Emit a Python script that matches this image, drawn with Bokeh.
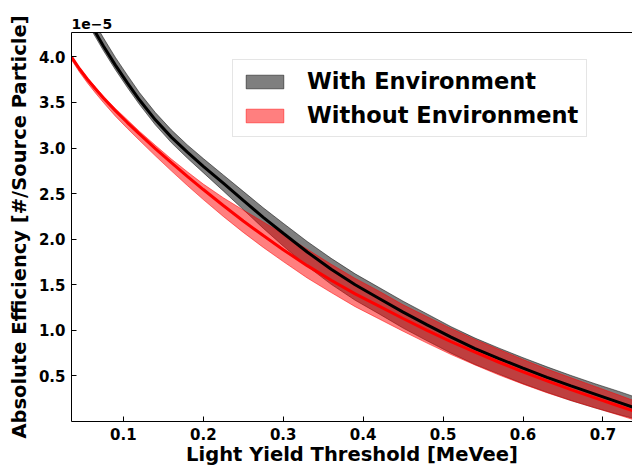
from bokeh.plotting import figure
from bokeh.models import Range1d, FixedTicker, NumeralTickFormatter, Legend, LegendItem, LinearAxis
from bokeh.embed import file_html
from bokeh.resources import INLINE

# Light yield threshold [MeVee]
x_thr = [0.035, 0.045, 0.055, 0.065, 0.075, 0.09, 0.105, 0.12, 0.14, 0.16, 0.18, 0.2, 0.225, 0.25, 0.275,
         0.3, 0.33, 0.36, 0.39, 0.42, 0.45, 0.48, 0.51, 0.54, 0.57, 0.6, 0.63, 0.66, 0.69, 0.72, 0.74]

# With environment (units of 1e-5): central value, upper and lower band edges
with_env = [4.74, 4.58, 4.42, 4.27, 4.12, 3.91, 3.715, 3.53, 3.31, 3.12, 2.955, 2.80, 2.615, 2.425, 2.24,
            2.065, 1.86, 1.67, 1.50, 1.35, 1.20, 1.06, 0.925, 0.80, 0.69, 0.585, 0.485, 0.39, 0.30, 0.21, 0.15]
with_env_hi = [4.83, 4.67, 4.51, 4.36, 4.21, 3.995, 3.80, 3.61, 3.39, 3.20, 3.035, 2.885, 2.705, 2.525, 2.345,
               2.175, 1.975, 1.79, 1.62, 1.47, 1.32, 1.18, 1.04, 0.915, 0.805, 0.70, 0.60, 0.505, 0.415, 0.33, 0.27]
with_env_lo = [4.69, 4.53, 4.37, 4.22, 4.07, 3.86, 3.665, 3.48, 3.255, 3.06, 2.89, 2.73, 2.53, 2.325, 2.12,
               1.925, 1.705, 1.505, 1.33, 1.18, 1.025, 0.885, 0.75, 0.625, 0.52, 0.415, 0.32, 0.23, 0.15, 0.075, 0.03]

# Without environment (units of 1e-5)
without_env = [4.00, 3.87, 3.755, 3.65, 3.55, 3.41, 3.28, 3.155, 2.995, 2.84, 2.69, 2.545, 2.37, 2.20, 2.04,
               1.885, 1.71, 1.55, 1.40, 1.265, 1.13, 1.00, 0.875, 0.76, 0.65, 0.545, 0.445, 0.35, 0.26, 0.17, 0.11]
without_env_hi = [4.01, 3.885, 3.77, 3.67, 3.57, 3.435, 3.31, 3.185, 3.03, 2.88, 2.74, 2.605, 2.455, 2.32, 2.19,
                  2.055, 1.89, 1.725, 1.57, 1.43, 1.28, 1.15, 1.02, 0.90, 0.79, 0.68, 0.575, 0.48, 0.385, 0.29, 0.225]
without_env_lo = [3.97, 3.835, 3.715, 3.605, 3.50, 3.35, 3.215, 3.085, 2.915, 2.75, 2.59, 2.435, 2.25, 2.075, 1.91,
                  1.755, 1.575, 1.415, 1.26, 1.125, 0.99, 0.86, 0.735, 0.62, 0.51, 0.41, 0.315, 0.23, 0.15, 0.07, 0.015]

x_ticks = [0.1, 0.2, 0.3, 0.4, 0.5, 0.6, 0.7]
y_ticks = [0.5, 1.0, 1.5, 2.0, 2.5, 3.0, 3.5, 4.0]
offset_text = "1e\u22125"

FONT = "DejaVu Sans"

p = figure(width=632, height=468, output_backend="svg", toolbar_location=None,
           x_range=Range1d(0.0351, 0.737), y_range=Range1d(0, 4.268),
           min_border_left=71, min_border_right=0, min_border_top=32, min_border_bottom=47)
p.outline_line_color = None
p.xgrid.visible = False
p.ygrid.visible = False
p.background_fill_color = "white"
p.border_fill_color = "white"

p.title.text = offset_text
p.title.align = "left"
p.title.text_font = FONT
p.title.text_font_style = "bold"
p.title.text_font_size = "14px"
p.title.text_color = "black"
p.title.standoff = 7
p.title.offset = 0

# bands
band_x = x_thr + x_thr[::-1]
g = p.patch(band_x, with_env_hi + with_env_lo[::-1], fill_color="black", fill_alpha=0.5,
            line_color="black", line_alpha=0.5, line_width=1)
r = p.patch(band_x, without_env_hi + without_env_lo[::-1], fill_color="red", fill_alpha=0.5,
            line_color="red", line_alpha=0.5, line_width=1)
p.line(x_thr, with_env, line_color="black", line_width=3)
p.line(x_thr, without_env, line_color="red", line_width=3)

# axes
for ax in (p.xaxis[0], p.yaxis[0]):
    ax.axis_line_color = "black"
    ax.axis_line_width = 1
    ax.major_tick_line_color = "black"
    ax.major_tick_in = 5
    ax.major_tick_out = 0
    ax.minor_tick_line_color = None
    ax.major_label_text_font = FONT
    ax.major_label_text_font_style = "bold"
    ax.major_label_text_font_size = "15px"
    ax.major_label_text_color = "black"
    ax.axis_label_text_font = FONT
    ax.axis_label_text_font_style = "bold"
    ax.axis_label_text_font_size = "19.5px"
    ax.axis_label_text_color = "black"
    ax.major_label_standoff = 6

p.xaxis.ticker = FixedTicker(ticks=x_ticks)
p.yaxis.ticker = FixedTicker(ticks=y_ticks)
p.xaxis.formatter = NumeralTickFormatter(format="0.0")
p.yaxis.formatter = NumeralTickFormatter(format="0.0")
p.xaxis.axis_label = "Light Yield Threshold [MeVee]"
p.yaxis.axis_label = "Absolute Efficiency [#/Source Particle]"
p.xaxis.axis_label_standoff = 0
p.yaxis.axis_label_standoff = 5

top = LinearAxis(ticker=FixedTicker(ticks=[]), axis_line_color="black", major_tick_line_color=None,
                 minor_tick_line_color=None, major_label_text_font_size="0px",
                 major_tick_in=0, major_tick_out=0, major_label_standoff=0)
p.add_layout(top, "above")

legend = Legend(items=[LegendItem(label="With Environment", renderers=[g]),
                       LegendItem(label="Without Environment", renderers=[r])],
                location=(161, 284), label_text_font=FONT, label_text_font_style="bold",
                label_text_font_size="22.5px", label_text_color="black",
                glyph_width=47, glyph_height=17, label_height=25, label_standoff=19,
                spacing=8, padding=8, margin=0,
                border_line_color="#cccccc", border_line_width=1,
                background_fill_color="white", background_fill_alpha=0.8)
p.add_layout(legend, "center")

open("out.html", "w").write(file_html(p, INLINE))
